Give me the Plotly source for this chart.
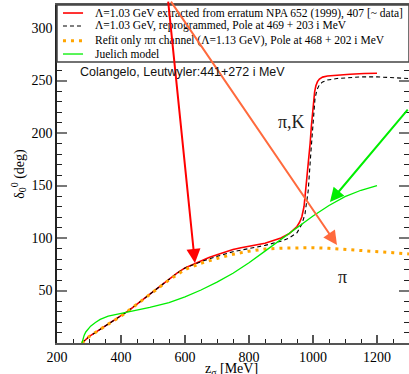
import plotly.graph_objects as go

# ---- data (MeV, degrees) ----
z_red = [278, 290, 300, 325, 350, 375, 400, 425, 450, 475, 500, 525, 550, 575, 600, 625, 650, 675, 700,
         725, 750, 775, 800, 850, 900, 925, 950, 958, 965, 972, 980, 986, 991, 995, 999, 1002, 1005,
         1009, 1014, 1020, 1030, 1045, 1074, 1116, 1160, 1200]
d_red = [0, 3.5, 6, 11, 16, 21, 25.5, 31, 37, 43, 49, 55, 61, 66.5, 71.5, 75, 78.5, 81.5, 84,
         86.8, 89, 90.7, 92, 95, 100, 104, 111, 115, 120, 130, 155, 172, 190, 207, 222, 232, 239,
         245, 249, 251.5, 253.3, 254.3, 255.2, 256, 256.8, 257]

z_black = [278, 290, 300, 325, 350, 375, 400, 425, 450, 475, 500, 525, 550, 575, 600, 650, 700, 750, 800,
           850, 900, 925, 950, 965, 975, 985, 993, 1000, 1006, 1012, 1020, 1030, 1045, 1075, 1150, 1200,
           1250, 1300]
d_black = [0, 3.5, 6, 11, 16, 21, 25.5, 31, 37, 43, 49, 55, 61, 66.5, 71.5, 77.5, 82.5, 87, 90,
           93, 97, 100, 105, 113, 123, 145, 180, 212, 232, 241, 246, 248.7, 250.5, 252, 253.5, 253.5,
           253, 252]

z_orange = [278, 300, 350, 400, 450, 500, 550, 600, 650, 700, 750, 800, 850, 900, 950, 1000,
            1050, 1100, 1150, 1200, 1250, 1300]
d_orange = [0, 6, 16, 25.5, 37, 48.5, 60, 70, 76, 80.5, 84.5, 87.5, 89.5, 90.3, 90.8, 90.8,
            90.2, 89.3, 88.2, 87, 86, 84.8]

z_green = [278, 280, 282, 285, 290, 297, 305, 320, 335, 360, 390, 416, 450, 490, 550, 600, 650, 700,
           750, 800, 850, 900, 950, 1000, 1050, 1100, 1150, 1200]
d_green = [0, 3, 5, 7.5, 10.5, 13.5, 16, 19.5, 22.5, 25.5, 27.5, 28.6, 31, 34, 38.5, 44, 50.5, 58,
           66.5, 76.5, 87.5, 98.5, 110, 121, 131, 139.5, 145.5, 150]

legend_labels = [
    "Λ=1.03 GeV extracted from erratum NPA 652 (1999), 407 [~ data]",
    "Λ=1.03 GeV, reprogrammed, Pole at 469 + 203 i MeV",
    "Refit only ππ channel (Λ=1.13 GeV), Pole at 468 + 202 i MeV",
    "Juelich model",
]

# arrows: (tail_x, tail_y, tip_x, tip_y) in data units
arrow_red = (547, 326.7, 631, 76.2)
arrow_orange = (553, 326.7, 1075, 93.3)
arrow_green = (1300, 223.8, 1053, 134.3)

x_range = [200, 1300]
y_range = [0, 322]

SERIF = "Liberation Serif"
SANS = "Liberation Sans"

styles = [
    dict(color="#ff0000", width=1.6, dash="solid"),
    dict(color="#000000", width=1.1, dash="4px,3px"),
    dict(color="#ffa500", width=3, dash="3px,5px"),
    dict(color="#00ee00", width=1.3, dash="solid"),
]

fig = go.Figure()
series = [(z_red, d_red), (z_black, d_black), (z_orange, d_orange), (z_green, d_green)]
for (zz, dd), st, name in zip(series, styles, legend_labels):
    fig.add_trace(go.Scatter(x=zz, y=dd, mode="lines", name=name, line=st, showlegend=False))

# legend box (covers top of plot)
shapes = []
annotations = []
leg_bottom = 0.8314
shapes.append(dict(type="rect", xref="paper", yref="paper", x0=0, x1=1, y0=leg_bottom, y1=1,
                   fillcolor="white", line=dict(color="#444", width=1.5), layer="above"))
rows = [0.9763, 0.9379, 0.8944, 0.855]
for yy, st, name in zip(rows, styles, legend_labels):
    shapes.append(dict(type="line", xref="paper", yref="paper", x0=0.017, x1=0.074, y0=yy, y1=yy,
                       line=dict(color=st["color"], width=st["width"], dash=st["dash"]), layer="above"))
    annotations.append(dict(xref="paper", yref="paper", x=0.1023, y=yy, text=name, showarrow=False,
                            xanchor="left", yanchor="middle",
                            font=dict(family=SERIF, size=11.5, color="black")))

for (ax_, ay_, x_, y_), col in [(arrow_red, "#ff0000"), (arrow_orange, "#ff6a3d"), (arrow_green, "#00ee00")]:
    annotations.append(dict(x=x_, y=y_, ax=ax_, ay=ay_, xref="x", yref="y", axref="x", ayref="y",
                            text="", showarrow=True, arrowhead=2, arrowsize=1.4, arrowwidth=2,
                            arrowcolor=col, standoff=0))

annotations.append(dict(x=266, y=258.6, xref="x", yref="y", text="Colangelo, Leutwyler:441+272 i MeV",
                        showarrow=False, xanchor="left", yanchor="middle",
                        font=dict(family=SANS, size=12.5, color="#111")))
annotations.append(dict(x=934, y=210.5, xref="x", yref="y", text="π,K", showarrow=False,
                        xanchor="center", yanchor="middle", font=dict(family=SERIF, size=18, color="#222")))
annotations.append(dict(x=1091, y=63, xref="x", yref="y", text="π", showarrow=False,
                        xanchor="center", yanchor="middle", font=dict(family=SERIF, size=18, color="#222")))
# x-axis title (placed below tick labels)
annotations.append(dict(x=0.497, y=-0.046, xref="paper", yref="paper", text="z<sub>σ</sub> [MeV]",
                        showarrow=False, xanchor="center", yanchor="top",
                        font=dict(family=SERIF, size=14, color="black")))

fig.update_layout(
    width=409, height=374,
    margin=dict(l=57, r=0, t=5, b=31, autoexpand=False),
    paper_bgcolor="white", plot_bgcolor="white",
    shapes=shapes, annotations=annotations, showlegend=False,
    font=dict(family=SERIF, size=14, color="black"),
)
fig.update_xaxes(
    range=x_range, tick0=200, dtick=200, ticks="inside", ticklen=8, tickwidth=1.5, tickcolor="#555",
    showline=True, linecolor="#555", linewidth=2, mirror=True, showgrid=False, zeroline=False,
    tickfont=dict(family=SERIF, size=14, color="black"),
    minor=dict(dtick=50, ticks="inside", ticklen=4, tickwidth=1, tickcolor="#222", showgrid=False),
    automargin=False,
)
fig.update_yaxes(
    range=y_range, tickmode="array", tickvals=[50, 100, 150, 200, 250, 300],
    ticks="inside", ticklen=10, tickwidth=2, tickcolor="#777",
    showline=True, linecolor="#222", linewidth=1.5, mirror="ticks", showgrid=False, zeroline=False,
    tickfont=dict(family=SERIF, size=14, color="black"),
    minor=dict(tickmode="array", tickvals=list(range(10, 320, 10)), ticks="inside", ticklen=5,
               tickwidth=1, tickcolor="#222", showgrid=False),
    title=dict(text="δ<sub>0</sub><sup>0</sup> (deg)", font=dict(family=SERIF, size=14), standoff=4),
    automargin=False,
)

fig.write_html("out.html")
